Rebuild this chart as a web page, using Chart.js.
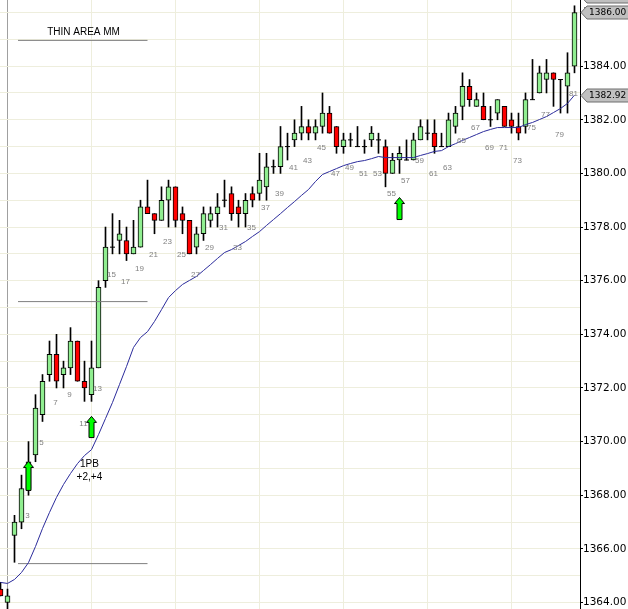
<!DOCTYPE html>
<html>
<head>
<meta charset="utf-8">
<script src="https://cdn.jsdelivr.net/npm/chart.js@4.4.1/dist/chart.umd.min.js"></script>
<style>
  html, body { margin: 0; padding: 0; background: #fff; }
  canvas { display: block; }
</style>
</head>
<body>
<canvas id="chart" width="628" height="609"></canvas>
<script>
// 5 minute bars, bar 1 = session open
const opens = [1364.5, 1364.0, 1366.5, 1367.0, 1368.25, 1369.5, 1371.0, 1372.5, 1373.25, 1372.5,
  1372.75, 1373.75, 1372.25, 1371.75, 1372.75, 1376.0, 1377.25, 1377.5, 1377.5, 1377.0,
  1377.25, 1378.75, 1378.5, 1378.25, 1379.0, 1379.5, 1378.5, 1378.25, 1377.25, 1377.75,
  1378.25, 1378.5, 1379.0, 1379.25, 1378.75, 1378.5, 1379.25, 1379.25, 1379.5, 1380.25,
  1380.25, 1381.0, 1381.25, 1381.5, 1381.75, 1381.5, 1381.75, 1382.25, 1381.75, 1381.0,
  1381.25, 1381.0, 1381.0, 1381.25, 1381.25, 1381.0, 1380.0, 1380.5, 1380.5, 1380.5,
  1381.25, 1381.5, 1381.5, 1381.0, 1381.0, 1381.75, 1382.5, 1383.25, 1382.5, 1382.5,
  1382.0, 1382.25, 1382.5, 1382.0, 1381.75, 1381.75, 1382.75, 1383.0, 1383.5, 1383.75,
  1383.5, 1383.25, 1384.0];
const highs = [1364.75, 1364.5, 1367.25, 1368.75, 1370.0, 1371.75, 1372.5, 1373.75, 1374.0, 1373.0,
  1374.25, 1373.75, 1373.0, 1373.75, 1376.0, 1378.0, 1378.5, 1378.25, 1378.0, 1378.25,
  1379.0, 1379.75, 1378.5, 1379.5, 1379.75, 1379.5, 1378.75, 1378.25, 1378.0, 1378.75,
  1378.75, 1379.25, 1379.75, 1379.5, 1379.0, 1379.25, 1379.5, 1380.75, 1380.75, 1380.5,
  1381.75, 1381.5, 1382.0, 1382.5, 1382.0, 1382.0, 1383.0, 1382.5, 1381.75, 1381.5,
  1381.5, 1381.75, 1381.25, 1381.75, 1381.5, 1381.25, 1380.75, 1381.0, 1381.25, 1381.5,
  1382.0, 1382.0, 1382.0, 1381.5, 1382.25, 1382.5, 1383.75, 1383.5, 1383.0, 1383.0,
  1382.5, 1382.75, 1382.5, 1382.25, 1382.25, 1383.0, 1384.25, 1384.0, 1384.25, 1383.75,
  1383.5, 1384.5, 1386.25];
const lows = [1364.25, 1363.75, 1365.5, 1366.75, 1368.0, 1369.25, 1370.75, 1372.25, 1372.0, 1372.0,
  1372.5, 1372.25, 1371.5, 1371.5, 1372.75, 1375.75, 1377.0, 1377.0, 1376.75, 1377.0,
  1377.25, 1378.5, 1377.75, 1378.25, 1378.0, 1378.0, 1377.75, 1377.0, 1377.0, 1377.5,
  1378.0, 1378.0, 1378.75, 1378.25, 1378.0, 1378.0, 1378.75, 1379.0, 1379.0, 1380.0,
  1380.0, 1380.5, 1381.0, 1381.25, 1381.25, 1381.25, 1381.5, 1381.5, 1380.75, 1380.75,
  1381.0, 1381.0, 1380.75, 1381.0, 1380.75, 1379.5, 1380.0, 1380.0, 1380.5, 1380.5,
  1381.25, 1381.25, 1380.75, 1381.0, 1381.0, 1381.5, 1382.0, 1382.5, 1382.5, 1382.0,
  1381.75, 1382.0, 1381.75, 1381.5, 1381.25, 1381.5, 1382.75, 1383.0, 1383.0, 1382.5,
  1382.25, 1382.25, 1383.75];
const closes = [1364.25, 1364.25, 1367.0, 1368.25, 1369.25, 1371.25, 1372.25, 1373.25, 1372.25, 1372.75,
  1373.75, 1372.25, 1372.0, 1372.75, 1375.75, 1377.25, 1377.25, 1377.75, 1377.0, 1377.25,
  1378.75, 1378.5, 1378.25, 1379.0, 1379.5, 1378.25, 1378.25, 1377.0, 1377.75, 1378.5,
  1378.5, 1378.75, 1379.0, 1378.5, 1378.5, 1379.0, 1379.0, 1379.75, 1380.25, 1380.25,
  1381.0, 1381.0, 1381.5, 1381.75, 1381.5, 1381.75, 1382.25, 1381.5, 1381.0, 1381.25,
  1381.25, 1381.0, 1381.0, 1381.5, 1381.25, 1380.0, 1380.5, 1380.75, 1380.5, 1381.25,
  1381.75, 1381.5, 1381.0, 1381.0, 1382.0, 1382.25, 1383.25, 1382.75, 1382.75, 1382.0,
  1382.0, 1382.75, 1381.75, 1381.75, 1381.5, 1382.75, 1382.75, 1383.75, 1383.75, 1383.5,
  1383.5, 1383.75, 1386.0];
// moving average
const maValues = [1364.75, 1364.71, 1364.86, 1365.12, 1365.49, 1366.09, 1366.76, 1367.36, 1367.92, 1368.40,
  1368.81, 1369.18, 1369.48, 1369.70, 1370.26, 1370.86, 1371.46, 1372.13, 1372.80, 1373.51,
  1373.88, 1374.10, 1374.48, 1374.92, 1375.37, 1375.63, 1375.86, 1376.01, 1376.16, 1376.38,
  1376.60, 1376.83, 1377.05, 1377.16, 1377.31, 1377.46, 1377.65, 1377.83, 1378.06, 1378.28,
  1378.50, 1378.73, 1378.95, 1379.18, 1379.40, 1379.70, 1379.96, 1380.07, 1380.18, 1380.29,
  1380.37, 1380.44, 1380.48, 1380.55, 1380.63, 1380.59, 1380.59, 1380.59, 1380.59, 1380.59,
  1380.67, 1380.74, 1380.82, 1380.85, 1381.00, 1381.11, 1381.23, 1381.34, 1381.45, 1381.56,
  1381.64, 1381.71, 1381.71, 1381.71, 1381.71, 1381.82, 1381.90, 1382.01, 1382.12, 1382.27,
  1382.42, 1382.61, 1382.92];

// price grid (labels on the even ones)
const yTickValues = [1364, 1365, 1366, 1367, 1368, 1369, 1370, 1371, 1372, 1373, 1374, 1375,
  1376, 1377, 1378, 1379, 1380, 1381, 1382, 1383, 1384, 1385, 1386];

// bar number labels (odd bars) and where they sit
const labelBars = [3, 5, 7, 9, 11, 13, 15, 17, 19, 21, 23, 25, 27, 29, 31, 33, 35, 37, 39, 41,
  43, 45, 47, 49, 51, 53, 55, 57, 59, 61, 63, 65, 67, 69, 71, 73, 75, 77, 79, 81];
const labelPrices = [1367.24, 1369.97, 1371.46, 1371.76, 1370.67, 1371.98, 1376.23, 1375.97, 1376.45, 1376.98,
  1377.46, 1376.98, 1376.23, 1377.24, 1377.98, 1377.24, 1377.98, 1378.73, 1379.25, 1380.22,
  1380.48, 1380.97, 1380.0, 1380.22, 1380.0, 1380.0, 1379.25, 1379.73, 1380.48, 1380.0,
  1380.22, 1381.23, 1381.71, 1380.97, 1380.97, 1380.48, 1381.71, 1382.20, 1381.45, 1382.98];

// buy arrows: bar, tip price, tail price
const arrowBars = [4, 13, 57];
const arrowTips = [1369.26, 1370.94, 1379.10];
const arrowTails = [1368.18, 1370.15, 1378.28];

// drawn levels
const levelPrices = [1384.96, 1375.22, 1365.45];
const levelFrom = 2.5;
const levelTo = 21;

const noteTexts = ["THIN AREA MM", "1PB", "+2,+4"];
const noteBars = [11.86, 12.7, 12.7];
const notePrices = [1385.27, 1369.15, 1368.66];

const hourBars = [1, 13, 25, 37, 49, 61, 73];
const tagValues = [1386.62, 1386.0, 1382.92];
const tagTexts = ["1386.62", "1386.00", "1382.92"];

const GREEN = "#90ee90";
const RED = "#ff0000";
const GRID = "#eeeedd";

const idx = opens.map((_, i) => i);
const solid = idx.filter(i => opens[i] !== closes[i]);
const dojis = idx.filter(i => opens[i] === closes[i]);

const levelSets = levelPrices.map(p => ({
  type: "line",
  data: [{ x: levelFrom, y: p }, { x: levelTo, y: p }],
  borderColor: "#7f7f7f",
  borderWidth: 1,
  pointRadius: 0,
  order: 0,
}));

const overlays = {
  id: "overlays",
  afterDatasetsDraw(chart) {
    const { ctx, scales: { x, y } } = chart;
    ctx.save();
    // bar numbers
    ctx.font = "8px 'Liberation Sans'";
    ctx.fillStyle = "#808080";
    ctx.textAlign = "center";
    ctx.textBaseline = "middle";
    labelBars.forEach((b, i) => {
      ctx.fillText(String(b), x.getPixelForValue(b) + 6, y.getPixelForValue(labelPrices[i]));
    });
    // notes
    ctx.fillStyle = "#000";
    ctx.font = "10px 'Liberation Sans'";
    noteTexts.forEach((t, i) => {
      ctx.fillText(t, x.getPixelForValue(noteBars[i]), y.getPixelForValue(notePrices[i]));
    });
    // arrows
    arrowBars.forEach((b, i) => {
      const cx = x.getPixelForValue(b);
      const tip = y.getPixelForValue(arrowTips[i]);
      const tail = y.getPixelForValue(arrowTails[i]);
      ctx.beginPath();
      ctx.moveTo(cx, tip);
      ctx.lineTo(cx + 5, tip + 6);
      ctx.lineTo(cx + 2.5, tip + 6);
      ctx.lineTo(cx + 2.5, tail);
      ctx.lineTo(cx - 2.5, tail);
      ctx.lineTo(cx - 2.5, tip + 6);
      ctx.lineTo(cx - 5, tip + 6);
      ctx.closePath();
      ctx.fillStyle = "#00ff00";
      ctx.fill();
      ctx.strokeStyle = "#000";
      ctx.lineWidth = 1;
      ctx.stroke();
    });
    ctx.restore();
  },
  afterDraw(chart) {
    const { ctx, chartArea, scales: { y } } = chart;
    const left = chartArea.right + 1;
    ctx.save();
    ctx.font = "9px 'DejaVu Sans'";
    ctx.textAlign = "left";
    ctx.textBaseline = "middle";
    tagValues.forEach((v, i) => {
      const py = Math.round(y.getPixelForValue(v)) + 0.5;
      ctx.beginPath();
      ctx.moveTo(left, py);
      ctx.lineTo(left + 6, py - 6.5);
      ctx.lineTo(chart.width + 2, py - 6.5);
      ctx.lineTo(chart.width + 2, py + 6.5);
      ctx.lineTo(left + 6, py + 6.5);
      ctx.closePath();
      ctx.fillStyle = "#c0c0c0";
      ctx.fill();
      ctx.strokeStyle = "#6e6e6e";
      ctx.lineWidth = 1;
      ctx.stroke();
      ctx.fillStyle = "#000";
      ctx.fillText(tagTexts[i], left + 8, py + 0.5);
    });
    ctx.restore();
  }
};

new Chart(document.getElementById("chart"), {
  type: "bar",
  data: {
    datasets: [
      {
        type: "line",
        data: maValues.map((v, i) => ({ x: i, y: v })),
        borderColor: "#2b2b9b",
        borderWidth: 1,
        pointRadius: 0,
        tension: 0,
        order: 0,
      },
      ...levelSets,
      {
        type: "line",
        data: dojis.map(i => ({ x: i, y: opens[i] })),
        showLine: false,
        pointStyle: "line",
        pointRadius: 2.5,
        pointHoverRadius: 2.5,
        borderColor: "#000",
        borderWidth: 1,
        order: 1,
      },
      {
        data: solid.map(i => ({ x: i, y: [opens[i], closes[i]] })),
        backgroundColor: solid.map(i => (closes[i] > opens[i] ? GREEN : RED)),
        borderColor: "#000",
        borderWidth: 1,
        borderSkipped: false,
        barThickness: 5,
        grouped: false,
        order: 2,
      },
      {
        data: idx.map(i => ({ x: i, y: [lows[i], highs[i]] })),
        backgroundColor: "#000",
        borderWidth: 0,
        barThickness: 1,
        grouped: false,
        order: 3,
      },
    ],
  },
  options: {
    responsive: false,
    animation: false,
    events: [],
    layout: { padding: 0, autoPadding: false },
    plugins: { legend: { display: false }, tooltip: { enabled: false } },
    scales: {
      x: {
        type: "linear",
        min: -0.5 / 7,
        max: 579.5 / 7,
        bounds: "data",
        offset: false,
        afterBuildTicks: s => { s.ticks = hourBars.map(v => ({ value: v })); },
        afterFit: s => { s.height = 0; s.paddingLeft = 0; s.paddingRight = 0; },
        ticks: { display: false },
        grid: {
          offset: false,
          drawTicks: false,
          color: c => (c.tick && c.tick.value === 1 ? "#a0a0a0" : GRID),
        },
        border: { display: false },
      },
      y: {
        position: "right",
        min: 1363.758,
        max: 1386.466,
        bounds: "data",
        afterBuildTicks: s => { s.ticks = yTickValues.map(v => ({ value: v })); },
        afterFit: s => { s.width = 48; s.paddingTop = 0; s.paddingBottom = 0; },
        ticks: {
          autoSkip: false,
          padding: 0,
          color: "#000",
          font: { family: "DejaVu Sans", size: 10.5 },
          callback: v => (v % 2 === 0 ? v.toFixed(2) : ""),
        },
        grid: {
          color: GRID,
          tickLength: 3,
          tickColor: c => (c.tick && c.tick.value % 2 === 0 ? "#000" : "rgba(0,0,0,0)"),
        },
        border: { color: "#000", width: 1 },
      },
    },
  },
  plugins: [overlays],
});
</script>
</body>
</html>
